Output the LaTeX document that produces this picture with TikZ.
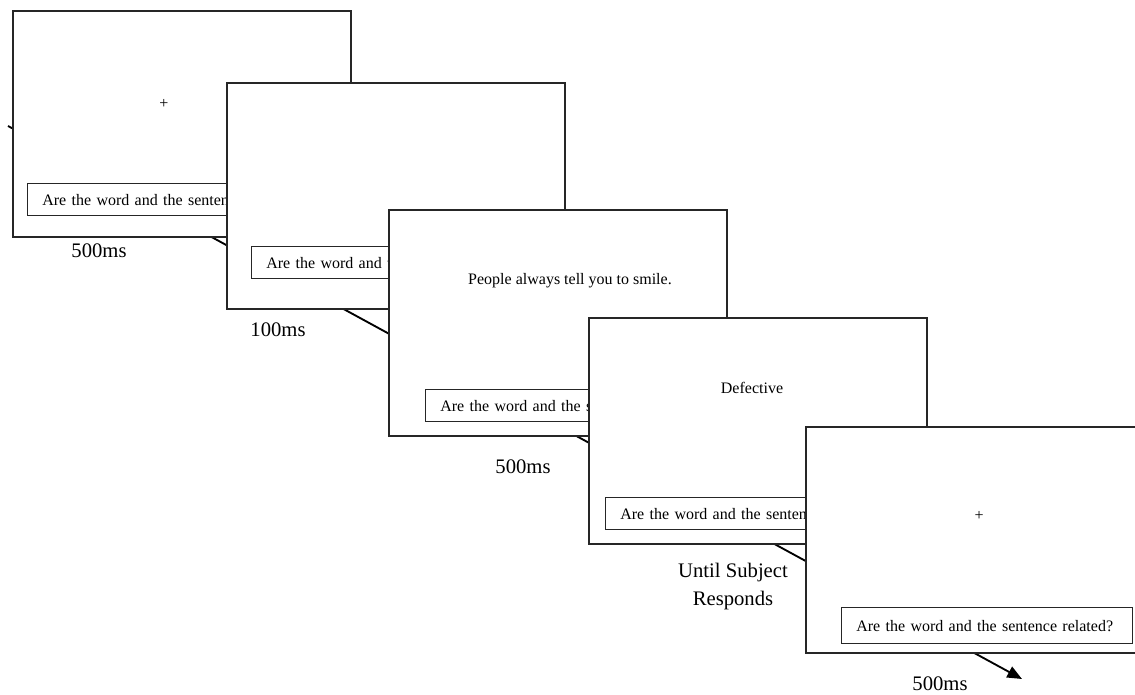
\documentclass[tikz,border=0pt]{standalone}
\usepackage{fontspec}
\setmainfont{Liberation Serif}
\usepackage{tikz}
\usetikzlibrary{arrows.meta}

\begin{document}
\begin{tikzpicture}[x=0.75pt,y=0.75pt,yscale=-1,xscale=1,
  screen/.style={draw=black!85,fill=white,line width=1.4pt,anchor=north west,minimum width=253.5pt,minimum height=169.5pt,inner sep=0pt},
  qbox/.style={draw=black!85,fill=white,line width=1pt,anchor=north west,text width=196pt,inner xsep=11pt,align=left,minimum height=24pt,font=\fontsize{12}{14}\selectfont},
  stim/.style={font=\fontsize{12}{14}\selectfont},
  timelbl/.style={font=\fontsize{15.5}{21}\selectfont,align=center}]
              \useasboundingbox (0,0) rectangle (1135,695);
              % time line behind the screens
              \coordinate (start) at (8,126);
              \coordinate (stop) at (1022,679);
              \draw[line width=1.4pt,-{Triangle[length=11pt,width=9pt]}] (start) -- (stop);
              % fixation
              \node[screen] (scr1) at (12,10) {};
              \node[stim] (plus1) at (164,104) {+};
              \node[qbox] (q1) at (27,183) {Are the word and the sentence related?};
              % blank
              \node[screen] (scr2) at (226,82) {};
              \node[qbox] (q2) at (251,246) {Are the word and the sentence related?};
              % sentence
              \node[screen] (scr3) at (388,209) {};
              \node[stim] (sent) at (570,281) {People always tell you to smile.};
              \node[qbox] (q3) at (425,389) {Are the word and the sentence related?};
              % word
              \node[screen] (scr4) at (588,317) {};
              \node[stim] (word) at (752,388) {Defective};
              \node[qbox] (q4) at (605,497) {Are the word and the sentence related?};
              % fixation again
              \node[screen] (scr5) at (805,426) {};
              \node[stim] (plus5) at (979,516) {+};
              \node[qbox,minimum height=27pt] (q5) at (841,607) {Are the word and the sentence related?};
              % durations
              \node[timelbl] (t1) at (99,251) {500ms};
              \node[timelbl] (t2) at (278,330) {100ms};
              \node[timelbl] (t3) at (523,467) {500ms};
              \node[timelbl] (t4) at (733,587) {Until Subject\\Responds};
              \node[timelbl] (t5) at (940,684) {500ms};
            \end{tikzpicture}
\end{document}
